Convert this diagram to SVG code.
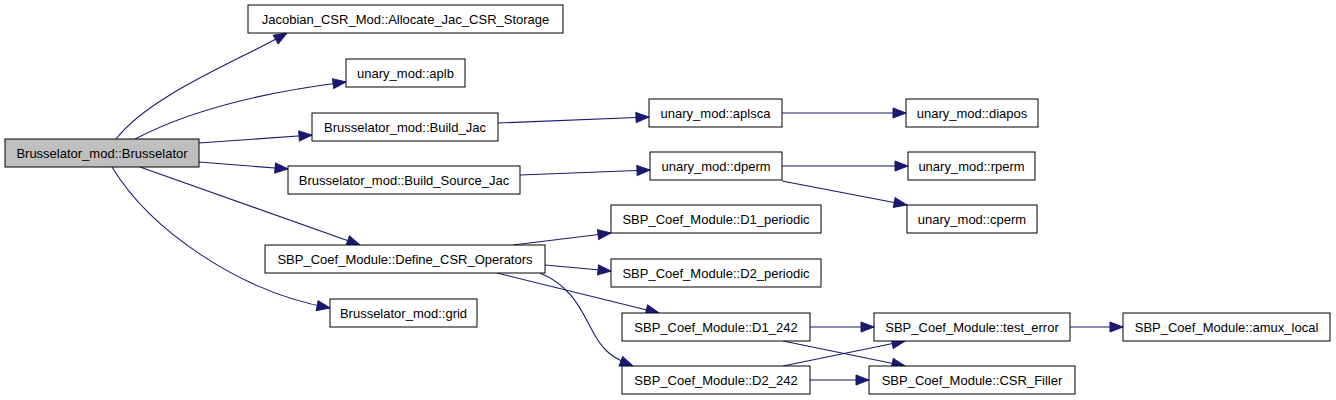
<svg xmlns="http://www.w3.org/2000/svg" width="1336" height="400" viewBox="0 0 1336 400">
<style>
.n rect{fill:#fff;stroke:#000;stroke-width:1}
.n.root rect{fill:#bfbfbf}
.n text{font-family:"Liberation Sans",Arial,sans-serif;font-size:13px;fill:#000;text-anchor:middle}
.e path{fill:none;stroke:#191970;stroke-width:1.1;marker-end:url(#ah)}
</style>
<defs>
<marker id="ah" markerUnits="userSpaceOnUse" markerWidth="13" markerHeight="10" refX="13" refY="5" orient="auto" overflow="visible">
<path d="M0,0 L13,5 L0,10 z" fill="#191970" stroke="#191970" stroke-width="1"/>
</marker>
</defs>
<rect width="1336" height="400" fill="#fff"/>
<g id="edges" class="e">
<path d="M116,139 C150,95 240,60 287,33"/>
<path d="M135,139 C190,110 265,92 346,82"/>
<path d="M199,143 L312,135"/>
<path d="M199,162 L288,169"/>
<path d="M140,167 L360,245"/>
<path d="M112,167 C150,230 240,292 330,308"/>
<path d="M498,123 L649,117"/>
<path d="M520,175 L650,170"/>
<path d="M782,113 L906,113"/>
<path d="M782,166 L908,166"/>
<path d="M782,181 L907,205"/>
<path d="M513,245 L611,233"/>
<path d="M545,265 L611,271"/>
<path d="M497,273 L659,313"/>
<path d="M540,273 C572,286 582,312 592,330 C602,350 612,358 633,366"/>
<path d="M810,327 L874,327"/>
<path d="M783,341 L905,366"/>
<path d="M783,366 L905,341"/>
<path d="M810,380 L869,380"/>
<path d="M1070,327 L1123,327"/>
</g>
<g id="brusselator" class="n root"><rect x="5" y="139" width="194" height="28"/><text x="102" y="157.5">Brusselator_mod::Brusselator</text></g>
<g id="allocate_jac" class="n"><rect x="248" y="5" width="315" height="28"/><text x="405.5" y="23.5">Jacobian_CSR_Mod::Allocate_Jac_CSR_Storage</text></g>
<g id="aplb" class="n"><rect x="346" y="59" width="119" height="28"/><text x="405.5" y="77.5">unary_mod::aplb</text></g>
<g id="build_jac" class="n"><rect x="312" y="113" width="186" height="28"/><text x="405" y="131.5">Brusselator_mod::Build_Jac</text></g>
<g id="build_source_jac" class="n"><rect x="288" y="166" width="232" height="28"/><text x="404" y="184.5">Brusselator_mod::Build_Source_Jac</text></g>
<g id="define_csr" class="n"><rect x="265" y="245" width="280" height="28"/><text x="405" y="263.5">SBP_Coef_Module::Define_CSR_Operators</text></g>
<g id="grid" class="n"><rect x="330" y="299" width="147" height="28"/><text x="403.5" y="317.5">Brusselator_mod::grid</text></g>
<g id="aplsca" class="n"><rect x="649" y="99" width="133" height="28"/><text x="715.5" y="117.5">unary_mod::aplsca</text></g>
<g id="diapos" class="n"><rect x="906" y="99" width="132" height="28"/><text x="972" y="117.5">unary_mod::diapos</text></g>
<g id="dperm" class="n"><rect x="650" y="152" width="132" height="28"/><text x="716" y="170.5">unary_mod::dperm</text></g>
<g id="rperm" class="n"><rect x="908" y="152" width="127" height="28"/><text x="971.5" y="170.5">unary_mod::rperm</text></g>
<g id="cperm" class="n"><rect x="907" y="205" width="130" height="28"/><text x="972" y="223.5">unary_mod::cperm</text></g>
<g id="d1_periodic" class="n"><rect x="611" y="205" width="210" height="28"/><text x="716" y="223.5">SBP_Coef_Module::D1_periodic</text></g>
<g id="d2_periodic" class="n"><rect x="611" y="259" width="210" height="28"/><text x="716" y="277.5">SBP_Coef_Module::D2_periodic</text></g>
<g id="d1_242" class="n"><rect x="622" y="313" width="188" height="28"/><text x="716" y="331.5">SBP_Coef_Module::D1_242</text></g>
<g id="d2_242" class="n"><rect x="622" y="366" width="188" height="28"/><text x="716" y="384.5">SBP_Coef_Module::D2_242</text></g>
<g id="test_error" class="n"><rect x="874" y="313" width="196" height="28"/><text x="972" y="331.5">SBP_Coef_Module::test_error</text></g>
<g id="csr_filler" class="n"><rect x="869" y="366" width="206" height="28"/><text x="972" y="384.5">SBP_Coef_Module::CSR_Filler</text></g>
<g id="amux_local" class="n"><rect x="1123" y="313" width="207" height="28"/><text x="1226.5" y="331.5">SBP_Coef_Module::amux_local</text></g>
</svg>
